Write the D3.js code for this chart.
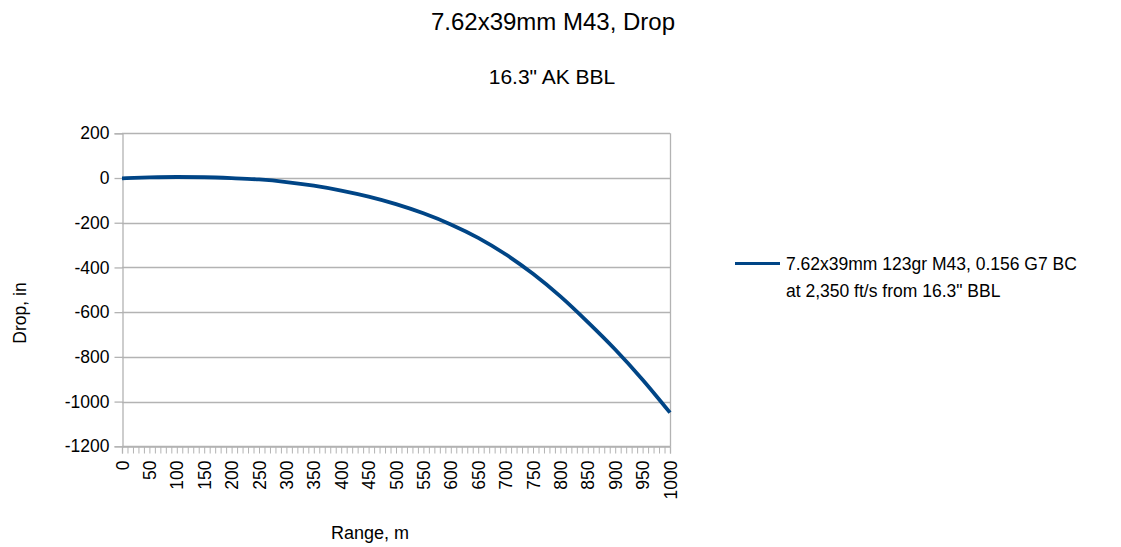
<!DOCTYPE html>
<html>
<head>
<meta charset="utf-8">
<script src="https://cdn.jsdelivr.net/npm/d3@7"></script>
<style>
  html, body { margin: 0; padding: 0; background: #fff; }
  text { font-family: "Liberation Sans", Arial, sans-serif; fill: #000; }
</style>
</head>
<body>
<svg id="chart" width="1121" height="547"></svg>
<script>
// ---- data ----
const rangeM = [0, 50, 100, 150, 200, 250, 300, 350, 400, 450, 500, 550, 600, 650, 700, 750, 800, 850, 900, 950, 1000];
const dropIn = [-1.5, 2.5, 4.5, 3.5, -0.5, -6.5, -18, -34.5, -56.5, -83.5, -117, -158, -207.5, -267.5, -341, -428.5, -529.5, -644.5, -767, -902, -1049.5];
const yTicks = [200, 0, -200, -400, -600, -800, -1000, -1200];
const xLabelStep = 50;
const xMinorStep = 10;
const titleText = "7.62x39mm M43, Drop";
const subtitleText = "16.3\" AK BBL";
const seriesName = ["7.62x39mm 123gr M43, 0.156 G7 BC", "at 2,350 ft/s from 16.3\" BBL"];
const xTitle = "Range, m";
const yTitle = "Drop, in";

// ---- layout ----
const svg = d3.select("#chart");
const pLeft = 122, pRight = 670, pTop = 133.3, pBottom = 446.3;
const x = d3.scaleLinear().domain([0, 1000]).range([pLeft, pRight]);
const y = d3.scaleLinear().domain([-1200, 200]).range([pBottom, pTop]);
const gridColor = "#b3b3b3";
const lineColor = "#004586";
const fmt = d => String(d);

// title
svg.append("text").attr("x", 553).attr("y", 30).attr("text-anchor", "middle")
  .style("font-size", "24px").text(titleText);
svg.append("text").attr("x", 552).attr("y", 84).attr("text-anchor", "middle")
  .style("font-size", "21px").text(subtitleText);

// grid
svg.append("g").selectAll("line").data(yTicks).join("line")
  .attr("x1", pLeft).attr("x2", pRight)
  .attr("y1", d => Math.round(y(d)) + 0.5).attr("y2", d => Math.round(y(d)) + 0.5)
  .attr("stroke", gridColor).attr("stroke-width", 1.3);

// right border
svg.append("line").attr("x1", pRight + 0.5).attr("x2", pRight + 0.5)
  .attr("y1", pTop).attr("y2", pBottom).attr("stroke", gridColor).attr("stroke-width", 1.3);

// y axis
const yAxis = d3.axisLeft(y).tickValues(yTicks).tickSize(8).tickPadding(5).tickFormat(fmt);
const gy = svg.append("g").attr("transform", `translate(${pLeft + 0.5},0)`).call(yAxis);
gy.select(".domain").attr("stroke", gridColor).attr("stroke-width", 1.3);
gy.selectAll(".tick line").attr("stroke", gridColor).attr("stroke-width", 1.3);
gy.selectAll(".tick text").style("font-size", "17.5px").attr("fill", "#000")
  .style("font-family", "Liberation Sans, Arial, sans-serif");

// x axis (minor ticks every 10 m, labels every 50 m)
const minorTicks = d3.range(0, 1001, xMinorStep);
const xAxisMinor = d3.axisBottom(x).tickValues(minorTicks).tickSize(7).tickFormat("");
const gxm = svg.append("g").attr("transform", `translate(0,${Math.round(pBottom) + 0.5})`).call(xAxisMinor);
gxm.select(".domain").attr("stroke", gridColor).attr("stroke-width", 1.3);
gxm.selectAll(".tick line").attr("stroke", gridColor).attr("stroke-width", 1);

const labelTicks = d3.range(0, 1001, xLabelStep);
const xAxisLabels = d3.axisBottom(x).tickValues(labelTicks).tickSize(0).tickFormat(fmt);
const gx = svg.append("g").attr("transform", `translate(0,${Math.round(pBottom) + 0.5})`).call(xAxisLabels);
gx.select(".domain").remove();
gx.selectAll(".tick text")
  .style("font-size", "17.5px").attr("fill", "#000")
  .style("font-family", "Liberation Sans, Arial, sans-serif")
  .attr("text-anchor", "end")
  .attr("dy", "0.35em")
  .attr("transform", "translate(0,14) rotate(-90)")
  .attr("x", 0).attr("y", 0);

// axis titles
svg.append("text").attr("x", 370).attr("y", 539).attr("text-anchor", "middle")
  .style("font-size", "18px").text(xTitle);
svg.append("text").attr("transform", "translate(26,313) rotate(-90)").attr("text-anchor", "middle")
  .style("font-size", "17.5px").text(yTitle);

// series line
const line = d3.line().x((d, i) => x(rangeM[i])).y(d => y(d)).curve(d3.curveMonotoneX);
svg.append("path").datum(dropIn).attr("d", line)
  .attr("fill", "none").attr("stroke", lineColor).attr("stroke-width", 3.8)
  .attr("stroke-linejoin", "round");

// legend
svg.append("line").attr("x1", 735).attr("x2", 780).attr("y1", 263.5).attr("y2", 263.5)
  .attr("stroke", lineColor).attr("stroke-width", 3);
svg.append("g").selectAll("text").data(seriesName).join("text")
  .attr("x", 786).attr("y", (d, i) => 270 + i * 27)
  .style("font-size", "17.5px").text(d => d);
</script>
</body>
</html>
